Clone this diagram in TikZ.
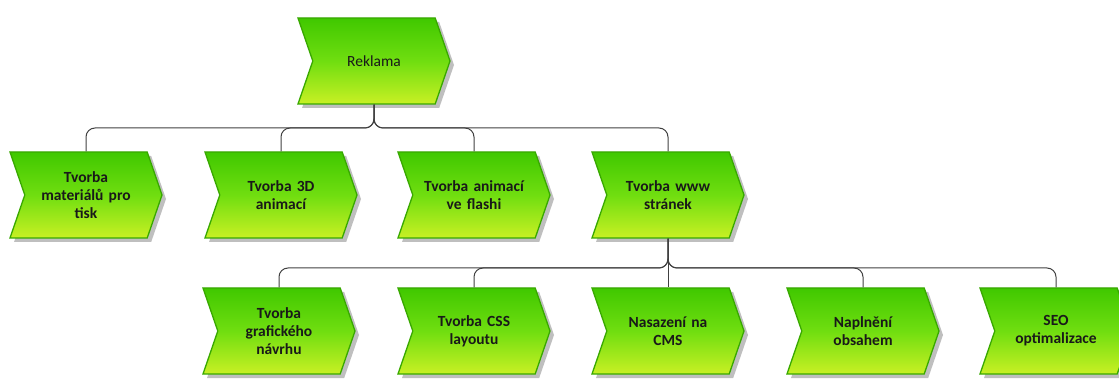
\documentclass[tikz,border=0pt]{standalone}
\usepackage{fontspec}
\setmainfont{Carlito}
\usetikzlibrary{shapes.symbols,shadows}

\definecolor{topgreen}{HTML}{40C800}
\definecolor{midgreen}{HTML}{70DE10}
\definecolor{botgreen}{HTML}{C8F024}
\definecolor{edgegreen}{HTML}{38A800}

\tikzset{
    task/.style={signal, signal to=east, signal from=west, signal pointer angle=142,
        minimum width=152pt, minimum height=86pt, inner sep=1pt,
        draw=edgegreen, line width=1.3pt,
        top color=topgreen, bottom color=botgreen, middle color=midgreen,
        drop shadow={shadow xshift=4pt, shadow yshift=-4pt, fill=black!50, opacity=.5},
        text=black!90, align=center, text width=110pt,
        font=\fontsize{15.5}{18}\selectfont\bfseries},
    link/.style={draw=black!75, line width=1pt, rounded corners=9pt}
}

\begin{document}
\begin{tikzpicture}[x=1pt, y=1pt]
    \useasboundingbox (0, 0) rectangle (1119, -379);

    % top
    \node[task, font=\fontsize{15.5}{18}\selectfont] (reklama) at (374, -61) {Reklama};

    % second row
    \foreach \name/\x/\label in {
        tisk/86/{Tvorba\\materiálů pro\\tisk},
        anim/281/{Tvorba 3D\\animací},
        flash/474/{Tvorba animací\\ve flashi},
        www/668/{Tvorba www\\stránek}}
        \node[task] (\name) at (\x, -195) {\label};

    % third row
    \foreach \name/\x/\label in {
        navrh/279/{Tvorba\\grafického\\návrhu},
        css/474/{Tvorba CSS\\layoutu},
        cms/668/{Nasazení na\\CMS},
        obsah/863/{Naplnění\\obsahem},
        seo/1056/{SEO\\optimalizace}}
        \node[task] (\name) at (\x, -331) {\label};

    \coordinate (bus1) at (0, -128);
    \coordinate (bus2) at (0, -268);

    \foreach \child in {tisk, anim, flash, www}
        \draw[link] (reklama.south) -- (reklama.south |- bus1) -| (\child.north);

    \foreach \child in {navrh, css, obsah, seo}
        \draw[link] (www.south) -- (www.south |- bus2) -| (\child.north);
    \draw[link] (www.south) -- (cms.north);
\end{tikzpicture}
\end{document}
